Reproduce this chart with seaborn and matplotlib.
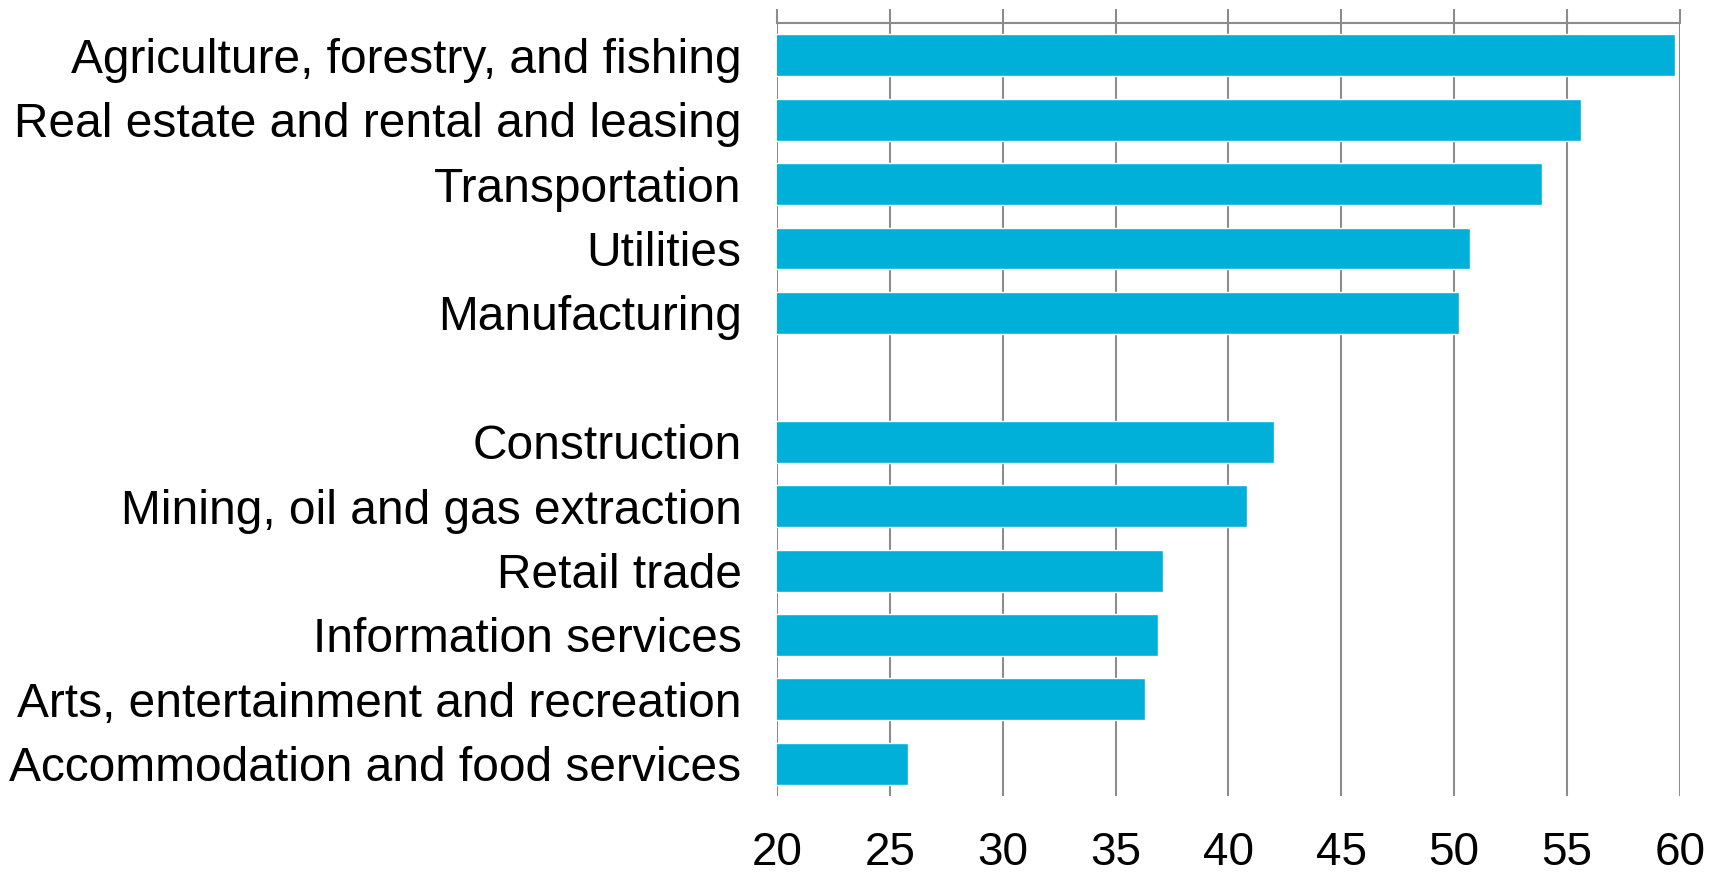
import pandas as pd
import seaborn as sns
import matplotlib.pyplot as plt

# share values
industries = ["Agriculture, forestry, and fishing", "Real estate and rental and leasing",
              "Transportation", "Utilities", "Manufacturing",
              "Construction", "Mining, oil and gas extraction", "Retail trade",
              "Information services", "Arts, entertainment and recreation",
              "Accommodation and food services"]
values = [59.8, 55.6, 53.9, 50.7, 50.2, 42.0, 40.8, 37.1, 36.9, 36.3, 25.8]
xticks = [20, 25, 30, 35, 40, 45, 50, 55, 60]

df = pd.DataFrame({"industry": industries, "value": values})
# empty slot between the two groups
order = industries[:5] + [""] + industries[5:]

sns.set_style("white")
plt.rcParams['font.family'] = ['Liberation Sans', 'DejaVu Sans']

fig = plt.figure(figsize=(17.21, 8.74), dpi=100)
ax = fig.add_axes([0.4515, 0.0892, 0.5246, 0.8845])

sns.barplot(data=df, y="industry", x="value", order=order, color="#00B0D8",
            saturation=1, width=0.65, ax=ax)

ax.set_xlim(20, 60)
ax.set_ylim(11.5, -0.5)
ax.set_xticks(xticks)
ax.grid(axis='x', color='#8c8c8c', linewidth=1.5)
ax.set_axisbelow(True)
for s in ['left', 'right', 'bottom']:
    ax.spines[s].set_visible(False)
ax.spines['top'].set_color('#8c8c8c')
ax.spines['top'].set_linewidth(1.5)

ax.tick_params(axis='x', top=True, bottom=False, labeltop=False, labelbottom=True,
               direction='out', length=10, width=1.5, color='#8c8c8c', pad=15,
               labelsize=33, labelcolor='black')
ax.tick_params(axis='y', left=False, pad=22, labelsize=34.5, labelcolor='black')
ax.set_xlabel('')
ax.set_ylabel('')

fig.savefig("out.png", dpi=100)
